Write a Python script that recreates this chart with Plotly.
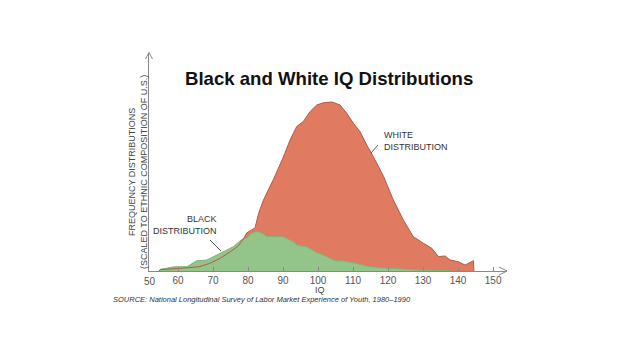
import plotly.graph_objects as go

# White distribution (IQ, relative frequency)
white_iq = [54.5, 55, 58, 61, 64, 66, 69, 72, 75, 77, 78.7, 79.6, 82, 83, 84.4, 86.3, 87.2, 90, 92, 93.9,
            95.8, 97.7, 99.6, 101.5, 104, 106.3, 108.2, 110.1, 112, 113.9, 115.8, 118.7, 121.5, 124.4,
            127.2, 130.1, 132.5, 134.4, 136.3, 137.7, 140.1, 142, 144.4, 144.5]
white_freq = [0, 0.8, 1.2, 1.6, 2.0, 2.5, 4.5, 7.5, 11.5, 14.5, 19, 22.5, 25.5, 34, 42, 50, 54, 67, 77.5, 85.5,
              88.5, 94.3, 98.2, 99.6, 100, 98.2, 93.3, 87.4, 82.4, 74.6, 67.6, 56, 42, 30,
              20.3, 16.4, 13.4, 8.5, 8.9, 6.5, 5.5, 3.5, 6.1, 0]

# Black distribution
black_iq = [54.5, 55, 59, 62.5, 65.3, 68.2, 72, 75.8, 78.2, 79.6, 81, 82.5, 84, 85.3, 88, 90.1, 92.9, 94,
            96.8, 99.6, 101.5, 103.4, 105.3, 107.2, 111, 114.9, 120.6, 128.2, 137, 138]
black_freq = [0, 1, 2.5, 2.5, 6, 6.5, 10.4, 14.4, 18.7, 19.5, 22.3, 23.5, 22.5, 20.5, 20.3, 20.3, 17.4, 15.4,
              14.4, 10.9, 9.5, 7.5, 6, 6, 4.5, 2.5, 1.6, 0.6, 0.2, 0]

tick_vals = [60, 70, 80, 90, 100, 110, 120, 130, 140, 150]

X0, X1 = 51.7, 153.4
Y0, Y1 = 0, 129

fig = go.Figure()
fig.add_trace(go.Scatter(x=white_iq, y=white_freq, mode="lines", fill="tozeroy",
                         fillcolor="#E07B62", line=dict(color="#E07B62", width=0), hoverinfo="skip"))
fig.add_trace(go.Scatter(x=black_iq, y=black_freq, mode="lines", fill="tozeroy",
                         fillcolor="#93C489", line=dict(color="#7DB574", width=1), hoverinfo="skip"))
fig.add_trace(go.Scatter(x=white_iq, y=white_freq, mode="lines",
                         line=dict(color="#B8583F", width=1), hoverinfo="skip"))

OFF = 8  # page body margin
L, R, T, B = 149, 505, 53, 271
W, H = 640 - OFF, 360 - OFF


def px(xp, yp):
    return (xp - L) / (R - L), (B - yp) / (B - T)


shapes = []


def seg(a, b, color="#888888", w=1):
    x0, y0 = px(*a)
    x1, y1 = px(*b)
    shapes.append(dict(type="line", xref="paper", yref="paper", x0=x0, y0=y0, x1=x1, y1=y1,
                       line=dict(color=color, width=w)))


# axis arrows
seg((145.5, 59), (149, 52.5))
seg((152.5, 59), (149, 52.5))
seg((499, 267), (507, 271))
seg((499, 275), (507, 271))
seg((505, 271), (507, 271))
# leader lines
seg((371, 153), (378, 145), color="#555555")
seg((210, 240), (221, 251), color="#555555")

annotations = [
    dict(text="<b>Black and White IQ Distributions</b>", x=329, y=78,
         font=dict(size=18.6, family="Liberation Sans, Arial", color="#111111")),
    dict(text="WHITE<br>DISTRIBUTION", x=382, y=141, align="left", xanchor="left",
         font=dict(size=9, color="#333333")),
    dict(text="BLACK<br>DISTRIBUTION", x=219, y=225, align="right", xanchor="right",
         font=dict(size=9, color="#333333")),
    dict(text="FREQUENCY DISTRIBUTIONS<br>(SCALED TO ETHNIC COMPOSITION OF U.S.)", x=138, y=172,
         textangle=-90, font=dict(size=9, color="#444444")),
    dict(text="IQ", x=320, y=290, font=dict(size=9, color="#444444")),
    dict(text="50", x=150, y=281, font=dict(size=10, color="#555555")),
    dict(text="<i>SOURCE: National Longitudinal Survey of Labor Market Experience of Youth, 1980–1990</i>",
         x=111, y=299, xanchor="left", font=dict(size=7.5, color="#333333")),
]
ann = []
for a in annotations:
    xp, yp = px(a.pop("x"), a.pop("y"))
    d = dict(xref="paper", yref="paper", x=xp, y=yp, showarrow=False,
             yanchor="middle", xanchor=a.pop("xanchor", "center"))
    d.update(a)
    ann.append(d)

fig.update_layout(
    width=W, height=H,
    margin=dict(l=L - OFF, r=640 - R, t=T - OFF, b=360 - B),
    paper_bgcolor="white", plot_bgcolor="white",
    showlegend=False,
    font=dict(family="Liberation Sans, Arial, sans-serif", color="#555555"),
    shapes=shapes, annotations=ann,
    xaxis=dict(range=[X0, X1], tickvals=tick_vals, ticks="inside", ticklen=4, tickcolor="#888888",
               showline=True, linecolor="#888888", linewidth=1, showgrid=False, zeroline=False,
               tickfont=dict(size=10, color="#555555"), fixedrange=True),
    yaxis=dict(range=[Y0, Y1], showline=True, linecolor="#888888", linewidth=1, showgrid=False,
               zeroline=False, showticklabels=False, ticks="", fixedrange=True),
)

fig.write_html("out.html")
